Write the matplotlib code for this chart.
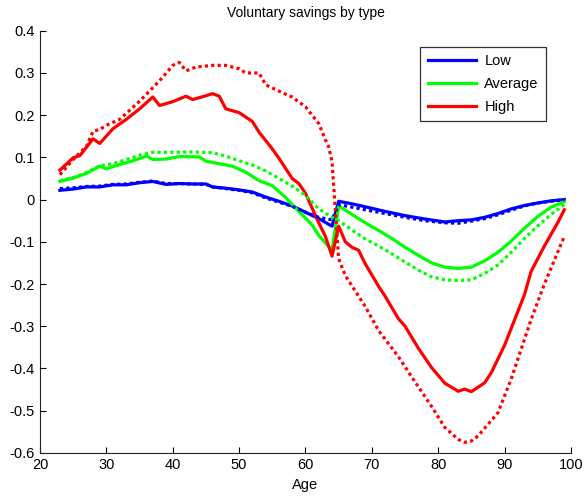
import numpy as np
import matplotlib.pyplot as plt
from matplotlib.ticker import FuncFormatter

plt.rcParams['font.family'] = ['Liberation Sans', 'DejaVu Sans']

# Low type
low_age = [23, 25, 27, 29, 31, 33, 35, 37, 39, 41, 43, 45, 46, 48, 50, 52, 54, 56, 58, 60, 62, 64,
           65, 67, 69, 72, 75, 78, 81, 83, 85, 87, 89, 91, 93, 95, 97, 99]
low_solid = [0.022, 0.025, 0.030, 0.030, 0.035, 0.035, 0.040, 0.043, 0.036, 0.038, 0.037, 0.037, 0.030,
             0.027, 0.023, 0.018, 0.006, -0.004, -0.015, -0.030, -0.045, -0.063,
             -0.004, -0.010, -0.017, -0.028, -0.038, -0.046, -0.053, -0.050, -0.048, -0.042, -0.033,
             -0.022, -0.014, -0.008, -0.003, 0.0]
low_dot = [0.026, 0.028, 0.031, 0.032, 0.036, 0.037, 0.041, 0.044, 0.038, 0.038, 0.037, 0.036, 0.030,
           0.026, 0.022, 0.016, 0.004, -0.006, -0.016, -0.030, -0.042, -0.048,
           -0.012, -0.018, -0.024, -0.033, -0.042, -0.050, -0.055, -0.056, -0.051, -0.045, -0.036,
           -0.025, -0.015, -0.008, -0.004, 0.0]

# Average type
mid_age = [23, 25, 27, 29, 30, 32, 34, 36, 37, 39, 41, 44, 45, 47, 49, 51, 53, 55, 57, 59, 61, 62, 64,
           65, 67, 69, 71, 73, 75, 77, 79, 81, 83, 85, 87, 89, 91, 93, 95, 97, 99]
mid_solid = [0.043, 0.051, 0.062, 0.079, 0.073, 0.083, 0.092, 0.103, 0.095, 0.096, 0.102, 0.101, 0.091,
             0.085, 0.079, 0.065, 0.045, 0.033, 0.005, -0.028, -0.060, -0.085, -0.120,
             -0.015, -0.035, -0.055, -0.073, -0.092, -0.113, -0.132, -0.150, -0.160, -0.163, -0.160,
             -0.145, -0.125, -0.098, -0.068, -0.040, -0.018, -0.005]
mid_dot_age = [23, 25, 27, 29, 31, 33, 35, 37, 40, 43, 46, 48, 50, 52, 54, 56, 58, 60, 62, 64,
               65, 67, 69, 71, 73, 75, 77, 79, 81, 83, 85, 87, 89, 91, 93, 95, 97, 99]
mid_dot = [0.045, 0.052, 0.064, 0.080, 0.085, 0.095, 0.105, 0.112, 0.112, 0.113, 0.111, 0.103, 0.092,
           0.082, 0.068, 0.050, 0.032, 0.010, -0.022, -0.042,
           -0.050, -0.072, -0.093, -0.110, -0.128, -0.148, -0.167, -0.183, -0.190, -0.192, -0.190,
           -0.175, -0.155, -0.125, -0.092, -0.062, -0.035, -0.012]

# High type
high_age = [23, 25, 26, 28, 29, 31, 33, 35, 37, 38, 40, 42, 43, 45, 46, 47, 48, 50, 52, 53, 55, 56, 58,
            59, 60, 61, 62, 63, 64, 65, 66, 67, 68, 69, 71, 72, 74, 75, 77, 79, 81, 83, 84, 85, 87, 88,
            90, 91, 93, 94, 96, 98, 99]
high_solid = [0.070, 0.099, 0.104, 0.144, 0.133, 0.168, 0.190, 0.215, 0.243, 0.223, 0.232, 0.245, 0.237,
              0.246, 0.251, 0.245, 0.215, 0.206, 0.185, 0.160, 0.120, 0.098, 0.050, 0.038, 0.015,
              -0.020, -0.055, -0.087, -0.134, -0.063, -0.100, -0.113, -0.120, -0.152, -0.205, -0.229,
              -0.282, -0.300, -0.352, -0.398, -0.435, -0.454, -0.449, -0.455, -0.434, -0.410, -0.345,
              -0.305, -0.225, -0.170, -0.110, -0.055, -0.024]
high_dot_age = [23, 25, 27, 28, 29, 30, 32, 35, 37, 38.5, 40, 41, 42, 43.5, 46, 48, 50, 51, 53, 54, 56,
                58, 60, 62, 63, 63.5, 64, 65, 66, 69, 71, 74, 76, 79, 81, 83, 84, 85, 86, 89, 91, 94,
                96, 99]
high_dot = [0.059, 0.095, 0.126, 0.162, 0.166, 0.176, 0.190, 0.233, 0.265, 0.290, 0.318, 0.325, 0.305,
            0.314, 0.318, 0.318, 0.310, 0.300, 0.300, 0.272, 0.257, 0.243, 0.220, 0.180, 0.142, 0.125,
            0.090, -0.140, -0.180, -0.253, -0.310, -0.372, -0.420, -0.490, -0.540, -0.568, -0.575,
            -0.572, -0.560, -0.505, -0.425, -0.284, -0.200, -0.087]

fig = plt.figure(figsize=(5.88, 4.96), dpi=100)
ax = fig.add_axes([0.068, 0.087, 0.903, 0.851])

lw = 2.3
dot = (0, (1, 1))
ax.plot(low_age, low_solid, color='#0000ff', lw=lw, label='Low')
ax.plot(mid_age, mid_solid, color='#00ff00', lw=lw, label='Average')
ax.plot(high_age, high_solid, color='#ff0000', lw=lw, label='High')
ax.plot(low_age, low_dot, color='#0000ff', lw=lw, ls=dot)
ax.plot(mid_dot_age, mid_dot, color='#00ff00', lw=lw, ls=dot)
ax.plot(high_dot_age, high_dot, color='#ff0000', lw=lw, ls=dot)

ax.set_xlim(20, 100)
ax.set_ylim(-0.6, 0.4)
ax.set_xticks(np.arange(20, 101, 10))
ax.set_yticks(np.arange(-0.6, 0.41, 0.1))
ax.yaxis.set_major_formatter(FuncFormatter(lambda v, p: '0' if abs(v) < 1e-9 else ('%g' % round(v, 1))))
ax.tick_params(direction='in', length=4, labelsize=10.5, colors='#000000', pad=4)
ax.spines['top'].set_visible(False)
ax.spines['right'].set_visible(False)
for s in ['left', 'bottom']:
    ax.spines[s].set_linewidth(0.8)
    ax.spines[s].set_color('#222222')

ax.set_title('Voluntary savings by type', fontsize=10, pad=10)
ax.set_xlabel('Age', fontsize=10.5, labelpad=4)

leg = ax.legend(loc='upper right', bbox_to_anchor=(0.967, 0.979), fontsize=10.5, frameon=True,
                fancybox=False, edgecolor='black', handlelength=3.3, borderpad=0.5, labelspacing=0.6,
                handletextpad=0.6)
leg.get_frame().set_linewidth(0.9)

fig.savefig('out.png', dpi=100)
